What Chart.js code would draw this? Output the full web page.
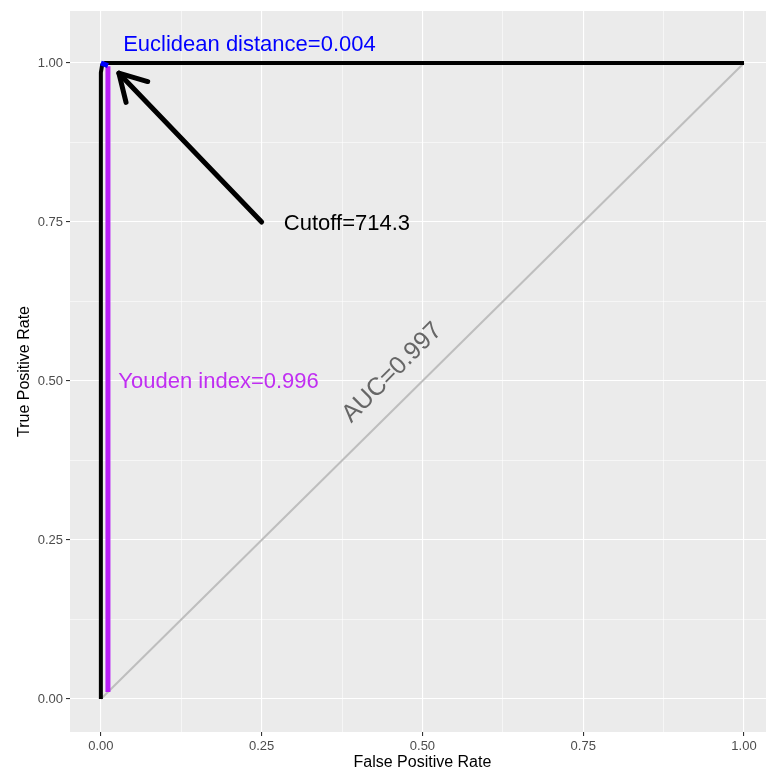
<!DOCTYPE html>
<html>
<head>
<meta charset="utf-8">
<script src="https://cdn.jsdelivr.net/npm/chart.js@4"></script>
<style>
  html, body { margin: 0; padding: 0; background: #fff; }
  #wrap { width: 766px; height: 771px; }
</style>
</head>
<body>
<div id="wrap"><canvas id="rocChart"></canvas></div>
<script>
// ROC curve and helper lines
var rocFpr = [0, 0, 0.002, 0.006, 1];
var rocTpr = [0, 0.985, 0.997, 1, 1];
var chanceFpr = [0, 1];
var chanceTpr = [0, 1];
var youdenFpr = [0.011, 0.011];
var youdenTpr = [0.011, 0.995];
var euclidFpr = [0, 0.011];
var euclidTpr = [1, 0.996];
var arrowFpr = [0.25, 0.028];
var arrowTpr = [0.75, 0.984];
var tickValues = [0, 0.125, 0.25, 0.375, 0.5, 0.625, 0.75, 0.875, 1];

var noteText = ["Euclidean distance=0.004", "Cutoff=714.3", "Youden index=0.996", "AUC=0.997"];
var noteX = [0.231, 0.3826, 0.183, 0.453];
var noteY = [1.028, 0.747, 0.498, 0.513];
var noteColor = ["#0000FF", "#000000", "#C02EF2", "#666666"];
var noteSize = [22, 22, 22, 25];
var noteAngle = [0, 0, 0, 45];

var FONT = "'Liberation Sans', Arial, sans-serif";

function pts(xs, ys) {
  return xs.map(function (x, i) { return {x: x, y: ys[i]}; });
}
function isMajor(v) {
  return Math.abs(v * 4 - Math.round(v * 4)) < 1e-6;
}

var panelPlugin = {
  id: "panel",
  beforeDraw: function (chart) {
    var a = chart.chartArea, ctx = chart.ctx;
    ctx.save();
    ctx.fillStyle = "#EBEBEB";
    ctx.fillRect(a.left, a.top, a.right - a.left, a.bottom - a.top);
    ctx.restore();
  },
  afterDatasetsDraw: function (chart) {
    var ctx = chart.ctx, xs = chart.scales.x, ys = chart.scales.y;
    // arrow head
    var x0 = xs.getPixelForValue(arrowFpr[0]), y0 = ys.getPixelForValue(arrowTpr[0]);
    var x1 = xs.getPixelForValue(arrowFpr[1]), y1 = ys.getPixelForValue(arrowTpr[1]);
    var ang = Math.atan2(y0 - y1, x0 - x1);
    var len = 30, spread = Math.PI / 6;
    ctx.save();
    ctx.strokeStyle = "#000";
    ctx.lineWidth = 5;
    ctx.lineCap = "round";
    ctx.lineJoin = "round";
    ctx.beginPath();
    ctx.moveTo(x1 + len * Math.cos(ang + spread), y1 + len * Math.sin(ang + spread));
    ctx.lineTo(x1, y1);
    ctx.lineTo(x1 + len * Math.cos(ang - spread), y1 + len * Math.sin(ang - spread));
    ctx.stroke();
    ctx.restore();

    // text notes
    noteText.forEach(function (t, i) {
      ctx.save();
      ctx.translate(xs.getPixelForValue(noteX[i]), ys.getPixelForValue(noteY[i]));
      ctx.rotate(-noteAngle[i] * Math.PI / 180);
      ctx.font = noteSize[i] + "px " + FONT;
      ctx.fillStyle = noteColor[i];
      ctx.textAlign = "center";
      ctx.textBaseline = "middle";
      ctx.fillText(t, 0, 0);
      ctx.restore();
    });
  },
  afterDraw: function (chart) {
    var ctx = chart.ctx, a = chart.chartArea;
    ctx.save();
    ctx.font = "16px " + FONT;
    ctx.fillStyle = "#000";
    ctx.textAlign = "center";
    ctx.textBaseline = "middle";
    ctx.fillText("False Positive Rate", chart.scales.x.getPixelForValue(0.5), 763);
    ctx.translate(25, (a.top + a.bottom) / 2);
    ctx.rotate(-Math.PI / 2);
    ctx.fillText("True Positive Rate", 0, 0);
    ctx.restore();
  }
};

function axis(min, max, size, isX) {
  return {
    type: "linear",
    min: min,
    max: max,
    afterBuildTicks: function (scale) {
      scale.ticks = tickValues.map(function (v) { return {value: v}; });
    },
    afterFit: function (scale) {
      if (isX) scale.height = size; else scale.width = size;
    },
    border: {display: false},
    grid: {
      color: "#FFFFFF",
      lineWidth: function (c) { return c.tick && isMajor(c.tick.value) ? 1.1 : 0.55; },
      tickColor: function (c) { return c.tick && isMajor(c.tick.value) ? "#333333" : "rgba(0,0,0,0)"; },
      tickLength: 4,
      drawTicks: true
    },
    ticks: {
      autoSkip: false,
      maxRotation: 0,
      padding: 3,
      color: "#4D4D4D",
      font: {family: FONT, size: 13},
      callback: function (v) { return isMajor(v) ? v.toFixed(2) : ""; }
    }
  };
}

new Chart("rocChart", {
  type: "scatter",
  data: {
    datasets: [
      {data: pts(arrowFpr, arrowTpr), showLine: true, borderColor: "#000000", borderWidth: 5,
       borderCapStyle: "round", pointRadius: 0, order: 0},
      {data: pts(euclidFpr, euclidTpr), showLine: true, borderColor: "#0000FF", borderWidth: 5,
       pointRadius: 0, order: 1},
      {data: pts(rocFpr, rocTpr), showLine: true, borderColor: "#000000", borderWidth: 4,
       borderJoinStyle: "round", pointRadius: 0, order: 2},
      {data: pts(youdenFpr, youdenTpr), showLine: true, borderColor: "#B81EF5", borderWidth: 5,
       pointRadius: 0, order: 3},
      {data: pts(chanceFpr, chanceTpr), showLine: true, borderColor: "#BEBEBE", borderWidth: 2,
       pointRadius: 0, order: 4}
    ]
  },
  options: {
    responsive: true,
    maintainAspectRatio: false,
    animation: false,
    layout: {padding: {top: 11, left: 0, right: 0, bottom: 0}},
    plugins: {legend: {display: false}, tooltip: {enabled: false}},
    scales: {
      x: axis(-0.048, 1.0342, 39, true),
      y: axis(-0.0519, 1.0818, 70, false)
    }
  },
  plugins: [panelPlugin]
});
</script>
</body>
</html>
